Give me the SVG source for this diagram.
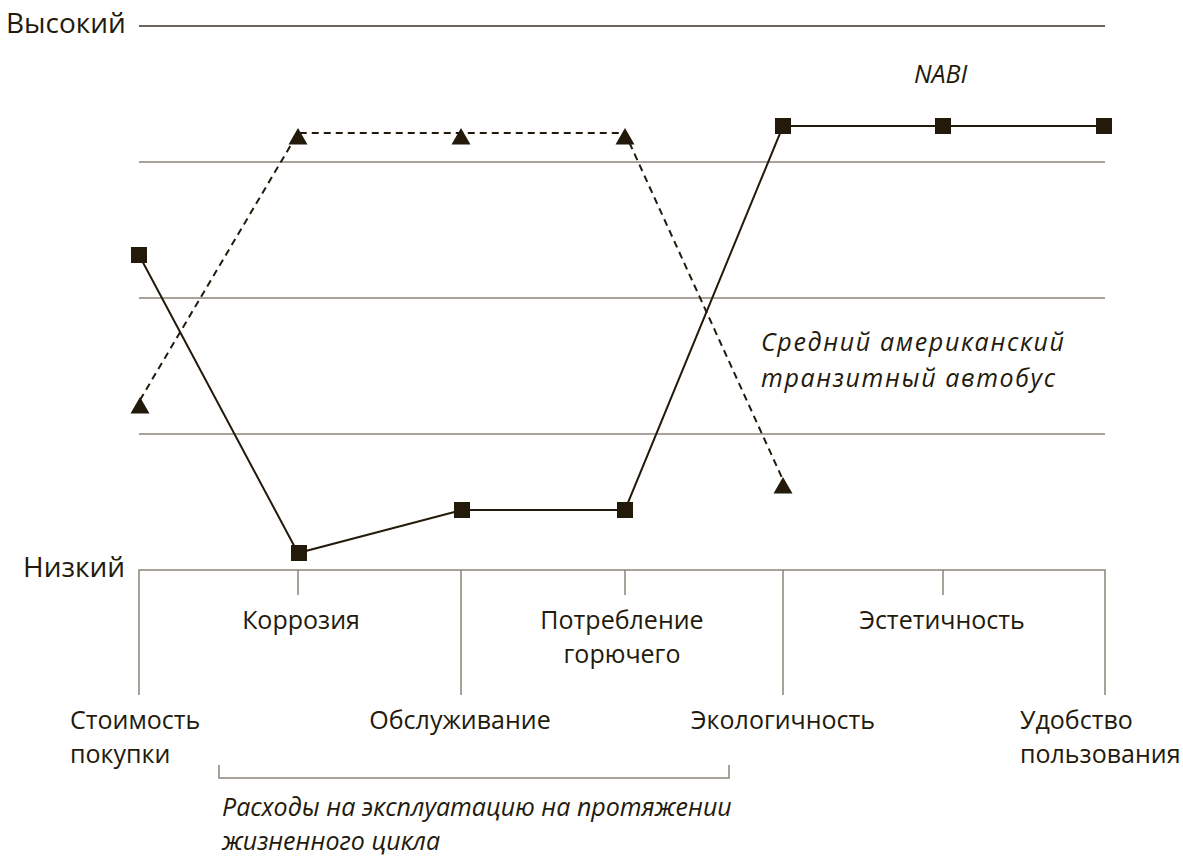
<svg xmlns="http://www.w3.org/2000/svg" width="1183" height="860" viewBox="0 0 1183 860">
<style>
text{font-family:"Open Sans","Noto Sans",sans-serif;font-size:25px;fill:#231a0c}
.it{font-style:italic}
.big{font-size:28px}
.grid{stroke:#8a8578;stroke-width:1.5;fill:none}
.axis{stroke:#8a8578;stroke-width:1.5;fill:none}
.top{stroke:#3a3226;stroke-width:1.5}
.solid{stroke:#231a0c;stroke-width:2;fill:none}
.dash{stroke:#231a0c;stroke-width:2;fill:none;stroke-dasharray:7 5}
.sq{fill:#231a0c}
.tri{fill:#231a0c}
</style>
<rect width="1183" height="860" fill="#fff"/>
<g id="axes">
<text class="big" x="6" y="33">Высокий</text>
<line class="top" x1="139" y1="26" x2="1105" y2="26"/>
<line class="grid" x1="139" y1="162" x2="1105" y2="162"/>
<line class="grid" x1="139" y1="298" x2="1105" y2="298"/>
<line class="grid" x1="139" y1="434" x2="1105" y2="434"/>
<text class="big" x="23" y="577">Низкий</text>
<path class="axis" d="M139 695V570H1105V695M461 570V695M783 570V695M298 570V595M625 570V595M943 570V595"/>
</g>
<g id="connectors">
<polyline class="dash" points="140,400 298,133 461,133 625,133 783,480"/>
<polyline class="solid" points="139,255 298,553 462,510 625,510 783,126 943,126 1104,126"/>
</g>
<g id="series-triangles">
<path class="tri" d="M140 397l9.5 16.5h-19z"/>
<path class="tri" d="M298 128l9.5 16.5h-19z"/>
<path class="tri" d="M461 128l9.5 16.5h-19z"/>
<path class="tri" d="M625 128l9.5 16.5h-19z"/>
<path class="tri" d="M783 477l9.5 16.5h-19z"/>
</g>
<g id="series-squares">
<rect class="sq" x="131" y="247" width="16" height="16"/>
<rect class="sq" x="291" y="545" width="16" height="16"/>
<rect class="sq" x="454" y="502" width="16" height="16"/>
<rect class="sq" x="617" y="502" width="16" height="16"/>
<rect class="sq" x="775" y="118" width="16" height="16"/>
<rect class="sq" x="935" y="118" width="16" height="16"/>
<rect class="sq" x="1096" y="118" width="16" height="16"/>
</g>
<g id="labels">
<text class="it" x="914" y="83" font-size="26">NABI</text>
<text class="it" x="761" y="351" font-size="26" textLength="303" lengthAdjust="spacing">Средний американский</text>
<text class="it" x="761" y="387" font-size="26" textLength="294" lengthAdjust="spacing">транзитный автобус</text>
<text x="301" y="629" text-anchor="middle">Коррозия</text>
<text x="622" y="629" text-anchor="middle">Потребление</text>
<text x="622" y="663" text-anchor="middle">горючего</text>
<text x="942" y="629" text-anchor="middle">Эстетичность</text>
<text x="70" y="729">Стоимость</text>
<text x="70" y="763">покупки</text>
<text x="460" y="729" text-anchor="middle">Обслуживание</text>
<text x="783" y="729" text-anchor="middle">Экологичность</text>
<text x="1020" y="729">Удобство</text>
<text x="1020" y="763">пользования</text>
</g>
<g id="bracket">
<path class="axis" d="M219 765V778H729V765"/>
<text class="it" x="222" y="816">Расходы на эксплуатацию на протяжении</text>
<text class="it" x="222" y="850">жизненного цикла</text>
</g>
</svg>
